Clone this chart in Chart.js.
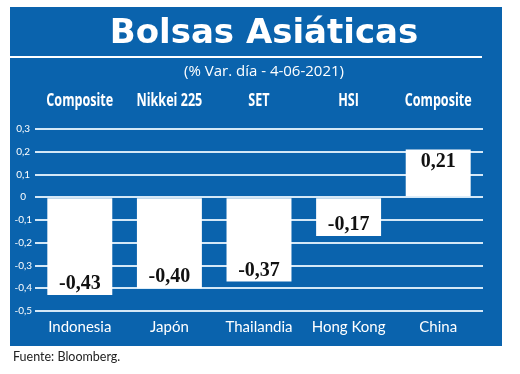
<!DOCTYPE html>
<html>
<head>
<meta charset="utf-8">
<script src="https://cdn.jsdelivr.net/npm/chart.js@4/dist/chart.umd.min.js"></script>
<style>
  html, body { margin: 0; padding: 0; background: #fff; }
</style>
</head>
<body>
<canvas id="grafico" width="520" height="374"></canvas>
<script>
// Datos
const paises = ['Indonesia', 'Japón', 'Thailandia', 'Hong Kong', 'China'];
const indices = ['Composite', 'Nikkei 225', 'SET', 'HSI', 'Composite'];
const variacion = [-0.43, -0.40, -0.37, -0.17, 0.21];
const ticksY = [0.3, 0.2, 0.1, 0, -0.1, -0.2, -0.3, -0.4, -0.5];

const AZUL = '#0a63ad';
const coma = v => String(v).replace('.', ',');

// Fondo azul, titulo, subtitulo y fuente
const fondo = {
  id: 'fondo',
  beforeDraw(chart) {
    const c = chart.ctx;
    c.save();
    c.fillStyle = '#fff';
    c.fillRect(0, 0, chart.width, chart.height);
    c.fillStyle = AZUL;
    c.fillRect(10, 7, 492, 339);

    c.fillStyle = '#fff';
    c.textAlign = 'center';
    c.textBaseline = 'alphabetic';
    c.font = 'bold 34px "DejaVu Sans"';
    c.fillText('Bolsas Asiáticas', 264, 43);

    c.fillRect(10, 56, 472, 2);

    c.font = '15px "Open Sans"';
    c.fillText('(% Var. día - 4-06-2021)', 264, 76);

    c.fillStyle = '#222';
    c.textAlign = 'left';
    c.font = '12.5px Lato';
    c.fillText('Fuente: Bloomberg.', 13, 361);
    c.restore();
  }
};

// Nombres de los indices (eje superior, letra condensada)
const indicesArriba = {
  id: 'indicesArriba',
  afterDraw(chart) {
    const c = chart.ctx;
    const eje = chart.scales.xTop;
    c.save();
    c.fillStyle = '#fff';
    c.textAlign = 'center';
    c.textBaseline = 'middle';
    c.font = 'bold 17px "Open Sans"';
    indices.forEach((txt, i) => {
      const x = eje.getPixelForValue(i);
      c.save();
      c.translate(x, 101);
      c.scale(0.74, 1);
      c.fillText(txt, 0, 0);
      c.restore();
    });
    c.restore();
  }
};

// Valores sobre las barras
const etiquetas = {
  id: 'etiquetas',
  afterDatasetsDraw(chart) {
    const c = chart.ctx;
    const meta = chart.getDatasetMeta(0);
    c.save();
    c.fillStyle = '#111';
    c.textAlign = 'center';
    c.textBaseline = 'middle';
    c.font = 'bold 20px "Liberation Serif"';
    meta.data.forEach((bar, i) => {
      const v = variacion[i];
      const y = v < 0 ? bar.y - 11 : bar.y + 12;
      c.fillText(coma(v.toFixed(2)), bar.x, y);
    });
    c.restore();
  }
};

new Chart(document.getElementById('grafico'), {
  type: 'bar',
  data: {
    labels: paises,
    datasets: [{
      data: variacion,
      backgroundColor: '#fff',
      borderWidth: 0,
      categoryPercentage: 1,
      barPercentage: 0.725,
      xAxisID: 'x'
    }]
  },
  options: {
    responsive: false,
    animation: false,
    events: [],
    layout: { padding: { left: 10, right: 37, top: 88, bottom: 28 } },
    plugins: { legend: { display: false }, title: { display: false }, tooltip: { enabled: false } },
    scales: {
      x: {
        position: 'bottom',
        grid: { display: false, drawTicks: false },
        border: { display: false },
        ticks: { color: '#fff', font: { family: 'Lato', size: 15 }, padding: 7, maxRotation: 0, minRotation: 0, autoSkip: false },
        afterFit: s => { s.height = 35; }
      },
      xTop: {
        type: 'category',
        position: 'top',
        labels: indices,
        offset: true,
        grid: { display: false, drawTicks: false },
        border: { display: false },
        ticks: { display: false },
        afterFit: s => { s.height = 41; }
      },
      y: {
        min: -0.5,
        max: 0.3,
        grid: { color: '#d4e8f7', lineWidth: 2, drawTicks: false },
        border: { display: false },
        afterBuildTicks: s => { s.ticks = ticksY.map(v => ({ value: v })); },
        afterFit: s => { s.width = 25; },
        ticks: {
          color: '#fff',
          crossAlign: 'center',
          font: { family: 'Lato', size: 10 },
          callback: v => v === 0 ? '0' : coma(v.toFixed(1))
        }
      }
    }
  },
  plugins: [fondo, indicesArriba, etiquetas]
});
</script>
</body>
</html>
